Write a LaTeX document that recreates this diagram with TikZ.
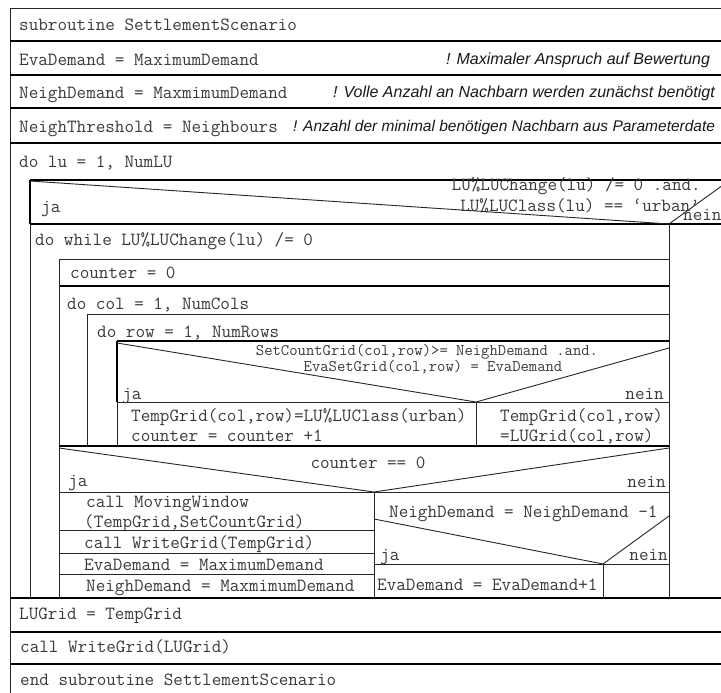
\documentclass[tikz,border=0pt]{standalone}
\usepackage{fontspec}
\newfontfamily\cmtfont{Liberation Sans}
\definecolor{codegray}{HTML}{3A3A3A}
\tikzset{
  thk/.style={line width=1.6pt, black},
  thn/.style={line width=0.9pt, black!85},
  code/.style={font=\fontsize{18.6}{20}\selectfont\ttfamily, text=codegray, inner sep=0pt, anchor=base west},
  codeR/.style={code, anchor=base east},
  codeS/.style={font=\fontsize{16.2}{18}\selectfont\ttfamily, text=codegray, inner sep=0pt, anchor=base},
  cmt/.style={font=\fontsize{16}{18}\selectfont\cmtfont\itshape, text=black!90, inner sep=0pt, anchor=base west},
}
\begin{document}
\begin{tikzpicture}[x=1pt,y=-1pt]
\useasboundingbox (0,0) rectangle (721,693);
\clip (0,0) rectangle (721,693);
\fill[white] (0,0) rectangle (721,693);

% ---- outer frame and top rows
\draw[thn] (10,8) -- (740,8);
\draw[thn] (10,8) -- (10,700);
\foreach \yy in {41,75,108,143,598,632,664} \draw[thk] (10,\yy) -- (740,\yy);

\node[code] (sub) at (19,31) {subroutine SettlementScenario};
\node[code] (eva) at (19,65.5) {EvaDemand = MaximumDemand};
\node[cmt] (c1) at (446,64.5) {! Maximaler Anspruch auf Bewertung};
\node[code] (neigh) at (19,99) {NeighDemand = MaxmimumDemand};
\node[cmt] (c2) at (333,98) {! Volle Anzahl an Nachbarn werden zunächst benötigt};
\node[code] (thr) at (19,132.5) {NeighThreshold = Neighbours};
\node[cmt, font=\fontsize{15.5}{18}\selectfont\cmtfont\itshape] (c3) at (293,131.5) {! Anzahl der minimal benötigen Nachbarn aus Parameterdate};
\node[code] (dolu) at (19,167.5) {do lu = 1, NumLU};

% ---- if 1
\draw[thk] (30,180) -- (740,180);
\draw[thk] (30,224) -- (740,224);
\draw[thk] (30,180) -- (30,224);
\draw[thn] (30,224) -- (30,598);
\draw[thn] (30,181) -- (669,224) -- (730,180);
\draw[thn] (669,224) -- (669,598);
\node[codeR] (cond1a) at (701,190.5) {LU\%LUChange(lu) /= 0 .and.};
\node[codeR] (cond1b) at (700,211) {LU\%LUClass(lu) == ‘urban’};
\node[code] (ja1) at (41,212.5) {ja};
\node[code] (nein1) at (683,220.5) {nein};

% ---- do while
\node[code] (dowhile) at (35,245.5) {do while LU\%LUChange(lu) /= 0};
\draw[thn] (59,259) -- (669,259);
\draw[thk] (59,286) -- (669,286);
\draw[thn] (59,259) -- (59,598);
\node[code] (cnt0) at (70,278.5) {counter = 0};

% ---- do col
\node[code] (docol) at (67,309.5) {do col = 1, NumCols};
\draw[thn] (87,314) -- (669,314);
\draw[thn] (87,314) -- (87,446);

% ---- do row
\node[code] (dorow) at (97,337) {do row = 1, NumRows};
\draw[thk] (117,341) -- (669,341);
\draw[thk] (117,341) -- (117,402);
\draw[thn] (117,402) -- (117,446);
\draw[thn] (117,343) -- (476,402) -- (669,348);
\draw[thn] (117,402) -- (669,402);
\draw[thn] (476,402) -- (476,446);
\node[codeS] (cond2a) at (427,355.5) {SetCountGrid(col,row)>= NeighDemand .and.};
\node[codeS] (cond2b) at (433,371) {EvaSetGrid(col,row) = EvaDemand};
\node[code] (ja2) at (122,399) {ja};
\node[codeR] (nein2) at (664,399) {nein};
\node[code] (tg1) at (131,421.5) {TempGrid(col,row)=LU\%LUClass(urban)};
\node[code] (tg2) at (131,441.5) {counter = counter +1};
\node[code] (tg3) at (500,421.5) {TempGrid(col,row)};
\node[code] (tg4) at (500,441.5) {=LUGrid(col,row)};

% ---- if 3 (counter == 0)
\draw[thk] (59,446) -- (669,446);
\draw[thn] (59,448) -- (374,492) -- (669,448);
\draw[thn] (59,492) -- (669,492);
\draw[thn] (374,492) -- (374,598);
\node[code, anchor=base] (cond3) at (368,468.5) {counter == 0};
\node[code] (ja3) at (68,486) {ja};
\node[codeR] (nein3) at (666,487) {nein};

% left branch
\node[code] (mw1) at (86,507.5) {call MovingWindow};
\node[code] (mw2) at (84,527) {(TempGrid,SetCountGrid)};
\draw[thn] (59,530) -- (374,530);
\node[code] (wg) at (84,548.5) {call WriteGrid(TempGrid)};
\draw[thn] (59,553) -- (374,553);
\node[code] (eva2) at (84,570) {EvaDemand = MaximumDemand};
\draw[thn] (59,574) -- (374,574);
\node[code] (neigh2) at (86,591.5) {NeighDemand = MaxmimumDemand};

% right branch
\node[code] (nd1) at (389,517.5) {NeighDemand = NeighDemand -1};
\draw[thn] (374,519) -- (603,564) -- (669,516);
\draw[thn] (374,564) -- (669,564);
\draw[thn] (603,564) -- (603,598);
\node[code] (ja4) at (380,560) {ja};
\node[codeR] (nein4) at (668,560) {nein};
\node[code] (evap) at (377,590.5) {EvaDemand = EvaDemand+1};

% ---- bottom rows
\node[code] (lug) at (19,619.5) {LUGrid = TempGrid};
\node[code] (wg2) at (20,652.5) {call WriteGrid(LUGrid)};
\node[code] (endsub) at (20,685.5) {end subroutine SettlementScenario};
\end{tikzpicture}
\end{document}
